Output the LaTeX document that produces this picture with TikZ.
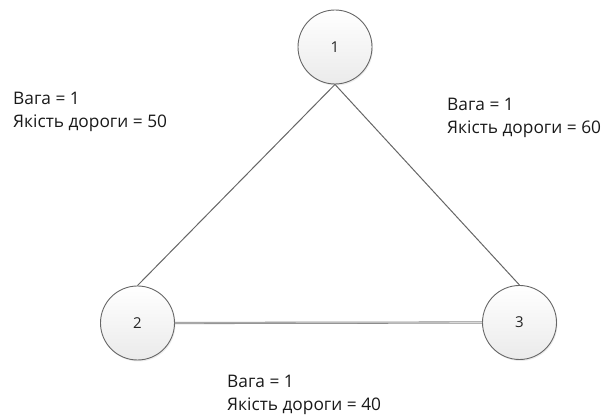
\documentclass[tikz,border=0pt]{standalone}
\usepackage{fontspec}
\setmainfont{Open Sans}
\usetikzlibrary{shadows}
\begin{document}
\begin{tikzpicture}[x=1pt,y=-1pt,
  vert/.style={circle,draw=black!60,line width=0.9pt,minimum size=74pt,inner sep=0pt,
    top color=white,bottom color=black!8,font=\fontsize{15}{17}\selectfont,text=black!85,
    drop shadow={shadow xshift=1pt,shadow yshift=-1.5pt,opacity=0.15}},
  edge/.style={draw=black!60,line width=1pt},
  lab/.style={anchor=north west,align=left,inner sep=0pt,font=\fontsize{17.3}{23}\selectfont,text=black!90}]
\useasboundingbox (0,0) rectangle (606,419);
\node[vert] (n1) at (335,47) {1};
\node[vert] (n2) at (137.5,323) {2};
\node[vert] (n3) at (519.5,322.5) {3};
\draw[edge] (n1.south) -- (n2.north);
\draw[edge] (n1.south) -- (n3.north);
\draw[draw=black!45,line width=2.2pt] (n2.east) -- (n3.west);
\draw[draw=black!15,line width=0.6pt] (n2.east) -- (n3.west);
\node[lab] (l1) at (13,92) {Вага = 1\\Якість дороги = 50};
\node[lab] (l2) at (447,98) {Вага = 1\\Якість дороги = 60};
\node[lab] (l3) at (227,375) {Вага = 1\\Якість дороги = 40};
\end{tikzpicture}
\end{document}
